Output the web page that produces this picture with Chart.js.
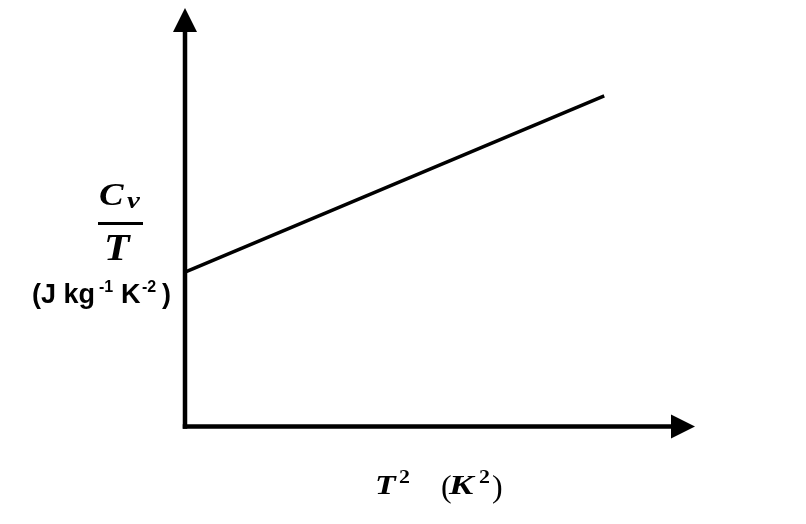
<!DOCTYPE html>
<html><head><meta charset="utf-8">
<script src="https://cdn.jsdelivr.net/npm/chart.js@4"></script>
<style>html,body{margin:0;padding:0;background:#fff}#wrap{width:806px;height:524px}</style>
</head><body><div id="wrap"><canvas id="c" width="806" height="524"></canvas></div>
<script>
// ---- data ----
const xValues = [0, 8.22];
const yValues = [3.69, 7.90];
const xRange = [0, 10];
const yRange = [0, 10];
// ---- labels ----
const yLabelNumerator = 'C';
const yLabelSubscript = 'v';
const yLabelDenominator = 'T';
const yUnitParts = ['(J kg', '-1', 'K', '-2', ')'];
const xLabelParts = ['T', '2', '(', 'K', '2', ')'];

const SERIF = '"Liberation Serif", "Times New Roman", serif';
const SANS = '"Liberation Sans", Arial, sans-serif';

function glyph(ctx, text, x, baseline, font, sx) {
  ctx.save();
  ctx.font = font;
  ctx.translate(x, baseline);
  ctx.scale(sx || 1, 1);
  ctx.fillText(text, 0, 0);
  const w = ctx.measureText(text).width * (sx || 1);
  ctx.restore();
  return w;
}

const axesPlugin = {
  id: 'axesArrows',
  afterDraw(chart) {
    const {ctx, scales: {x, y}} = chart;
    const x0 = x.getPixelForValue(xRange[0]);
    const y0 = y.getPixelForValue(yRange[0]);
    const xEnd = x.getPixelForValue(xRange[1]);
    const yEnd = y.getPixelForValue(yRange[1]);
    ctx.save();
    ctx.fillStyle = '#000';
    ctx.strokeStyle = '#000';
    ctx.lineWidth = 4.5;
    ctx.lineCap = 'butt';
    ctx.beginPath(); ctx.moveTo(x0, y0 + 2.25); ctx.lineTo(x0, yEnd + 23); ctx.stroke();
    ctx.beginPath(); ctx.moveTo(x0 - 2.25, y0); ctx.lineTo(xEnd - 23, y0); ctx.stroke();
    ctx.beginPath(); ctx.moveTo(x0, yEnd); ctx.lineTo(x0 - 12, yEnd + 24); ctx.lineTo(x0 + 12, yEnd + 24); ctx.closePath(); ctx.fill();
    ctx.beginPath(); ctx.moveTo(xEnd, y0); ctx.lineTo(xEnd - 24, y0 - 12); ctx.lineTo(xEnd - 24, y0 + 12); ctx.closePath(); ctx.fill();

    ctx.textBaseline = 'alphabetic';
    ctx.textAlign = 'left';
    // y label: fraction C_v / T
    glyph(ctx, yLabelNumerator, 99, 205, 'bold italic 32px ' + SERIF, 1.15);
    glyph(ctx, yLabelSubscript, 127, 208, 'bold italic 24px ' + SERIF, 1.2);
    ctx.fillRect(98, 222, 45, 3);
    glyph(ctx, yLabelDenominator, 104, 260, 'bold italic 38px ' + SERIF, 1.1);
    // units
    const bs = 'bold 27px ' + SANS, ss = 'bold 16px ' + SANS;
    glyph(ctx, yUnitParts[0], 32, 303, bs, 1.0);
    glyph(ctx, yUnitParts[1], 99, 292, ss, 1.0);
    glyph(ctx, yUnitParts[2], 121, 303, bs, 1.0);
    glyph(ctx, yUnitParts[3], 142, 292, ss, 1.0);
    glyph(ctx, yUnitParts[4], 162, 303, bs, 1.0);

    // x label: T^2  (K^2)
    const bi = 'bold italic 27px ' + SERIF, sp = 'bold 19px ' + SERIF, par = '32px ' + SERIF;
    glyph(ctx, xLabelParts[0], 375, 494, bi, 1.25);
    glyph(ctx, xLabelParts[1], 399, 483, sp, 1.15);
    glyph(ctx, xLabelParts[2], 441, 497, par, 1.0);
    glyph(ctx, xLabelParts[3], 449, 494, bi, 1.35);
    glyph(ctx, xLabelParts[4], 479, 483, sp, 1.15);
    glyph(ctx, xLabelParts[5], 492, 497, par, 1.0);
    ctx.restore();
  }
};

new Chart(document.getElementById('c'), {
  type: 'line',
  data: {
    datasets: [{
      data: xValues.map((v, i) => ({x: v, y: yValues[i]})),
      borderColor: '#000',
      borderWidth: 3.5,
      pointRadius: 0,
      fill: false,
      tension: 0,
      clip: false
    }]
  },
  options: {
    responsive: false,
    animation: false,
    devicePixelRatio: 1,
    layout: {padding: {left: 185, right: 111, top: 8, bottom: 97.5}},
    plugins: {legend: {display: false}, tooltip: {enabled: false}},
    scales: {
      x: {type: 'linear', min: xRange[0], max: xRange[1], display: false},
      y: {type: 'linear', min: yRange[0], max: yRange[1], display: false}
    }
  },
  plugins: [axesPlugin]
});
</script>
</body></html>
